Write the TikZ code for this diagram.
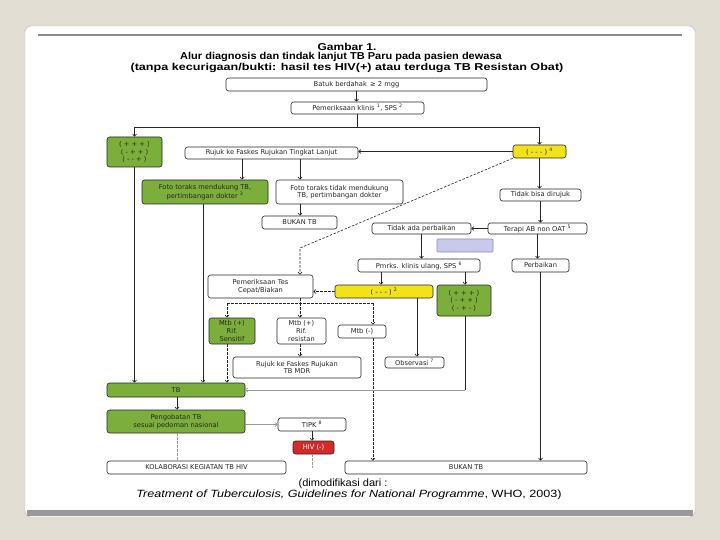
\documentclass[tikz,border=0pt]{standalone}
\usepackage{fontspec}
\usepackage{graphicx}
\setmainfont{DejaVu Sans}
\newfontfamily\titlefont{Liberation Sans}
\usetikzlibrary{arrows.meta,calc}
\definecolor{bg}{HTML}{E3DED3}
\definecolor{gr}{HTML}{7BAE3A}
\definecolor{yl}{HTML}{F2E21A}
\definecolor{rd}{HTML}{D42A2A}
\definecolor{lav}{HTML}{C9C9EC}
\newcommand\mybox[7]{\node[#6, minimum width={#4-#2}, minimum height={#5-#3}] (#1) at ({(#2+#4)/2},{(#3+#5)/2}) {#7};}
\begin{document}
\begin{tikzpicture}[x=1pt,y=-1pt,
 box/.style={draw=black!85, line width=0.6pt, rounded corners=2.5pt, fill=white, inner sep=0pt, align=center, text=black!85, font=\fontsize{6.7}{7.6}\selectfont},
 gbox/.style={box, fill=gr},
 ybox/.style={box, fill=yl},
 rbox/.style={box, fill=rd, text=white},
 arr/.style={-{Straight Barb[length=2.2pt,width=4pt]}},
 conn/.style={line width=0.6pt, draw=black!85},
 gconn/.style={line width=0.6pt, draw=black!40},
 dsh/.style={dash pattern=on 2.5pt off 1.5pt},
 ttl/.style={font=\titlefont\bfseries\fontsize{10}{11}\selectfont, inner sep=0pt},
 foot/.style={font=\titlefont\fontsize{10.5}{12}\selectfont, inner sep=0pt}]
\useasboundingbox (0,0) rectangle (720,540);
\fill[bg] (0,0) rectangle (720,540);
\filldraw[fill=white, draw=black!30, rounded corners=6pt] (25,26) rectangle (695,517);
\fill[black!40] (27,510) rectangle (693,516);
\draw[black!45, line width=1.2pt] (38,35) -- (682,35);

% titles
\node[ttl] (t1) at (347,46.5) {\scalebox{1.2}[1]{Gambar 1.}};
\node[ttl] (t2) at (341,57) {\scalebox{1.1}[1]{Alur diagnosis dan tindak lanjut TB Paru pada pasien dewasa}};
\node[ttl] (t3) at (347,67.5) {\scalebox{1.26}[1]{(tanpa kecurigaan/bukti: hasil tes HIV(+) atau terduga TB Resistan Obat)}};

% boxes
\mybox{b1}{226}{78}{487}{91}{box}{Batuk berdahak \,≥ 2 mgg}
\mybox{b2}{291}{102}{424}{114}{box}{Pemeriksaan klinis \textsuperscript{1}, SPS \textsuperscript{2}}
\mybox{g1}{107}{137}{162}{167}{gbox}{( + + + )\\( - + + )\\( - - + )}
\mybox{rujuk}{185}{147}{358}{159}{box}{Rujuk ke Faskes Rujukan Tingkat Lanjut}
\mybox{y1}{513}{145}{566}{158}{ybox}{( - - - ) \textsuperscript{4}}
\mybox{foto1}{142}{180}{268}{204}{gbox}{Foto toraks mendukung TB,\\pertimbangan dokter \textsuperscript{3}}
\mybox{foto2}{276}{180}{403}{204}{box}{Foto toraks tidak mendukung\\TB, pertimbangan dokter}
\mybox{bukan1}{262}{216}{337}{229}{box}{BUKAN TB}
\mybox{tbd}{500}{189}{581}{201}{box}{Tidak bisa dirujuk}
\mybox{terapi}{488}{223}{587}{234}{box}{Terapi AB non OAT \textsuperscript{5}}
\mybox{tap}{372}{223}{471}{234}{box}{Tidak ada perbaikan}
\mybox{lav}{437}{239}{493}{252}{box, fill=lav, draw=lav!70!black, rounded corners=1pt}{}
\mybox{pmrks}{358}{259}{480}{272}{box}{Pmrks. klinis ulang, SPS \textsuperscript{6}}
\mybox{perb}{512}{259}{569}{272}{box}{Perbaikan}
\mybox{y2}{335}{285}{433}{298}{ybox}{( - - - ) \textsuperscript{2}}
\mybox{g2}{437}{285}{491}{316}{gbox}{( + + + )\\( - + + )\\( - + - )}
\mybox{cepat}{208}{275}{313}{298}{box}{Pemeriksaan Tes\\Cepat/Biakan}
\mybox{sens}{209}{318}{255}{344}{gbox}{Mtb (+)\\Rif.\\Sensitif}
\mybox{res}{277}{318}{326}{344}{box}{Mtb (+)\\Rif.\\resistan}
\mybox{neg}{338}{325}{386}{338}{box}{Mtb (-)}
\mybox{mdr}{233}{357}{361}{378}{box}{Rujuk ke Faskes Rujukan\\TB MDR}
\mybox{obs}{385}{357}{444}{368}{box}{Observasi \textsuperscript{7}}
\mybox{tb}{107}{383}{245}{397}{gbox}{TB}
\mybox{peng}{107}{410}{245}{433}{gbox}{Pengobatan TB\\sesuai pedoman nasional}
\mybox{tipk}{278}{418}{346}{431}{box}{TIPK \textsuperscript{8}}
\mybox{hiv}{293}{441}{334}{454}{rbox}{HIV (-)}
\mybox{kolab}{107}{461}{286}{474}{box}{KOLABORASI KEGIATAN TB HIV}
\mybox{bukan2}{345}{461}{587}{474}{box}{BUKAN TB}

% connectors
\draw[conn,arr] (b1.south) -- (b1.south |- b2.north);
\coordinate (sp) at (357.5,127);
\draw[conn] (b2.south) -- (sp);
\draw[conn,arr] (sp) -| (g1.north);
\draw[conn,arr] (sp) -| (y1.north);
\draw[conn,arr] (y1.west) -- (rujuk.east |- y1.west);
\draw[conn,arr] (rujuk.south -| 242,0) -- (foto1.north -| 242,0);
\draw[conn,arr] (rujuk.south -| 300,0) -- (foto2.north -| 300,0);
\draw[conn,arr] (foto2.south -| 300,0) -- (bukan1.north -| 300,0);
\draw[conn,arr] (y1.south) -- (y1.south |- tbd.north);
\coordinate (dk) at (300,248);
\draw[conn,dsh,arr] (y1.south west) -- (dk) -- (cepat.north -| dk);
\draw[conn,arr] (tbd.south) -- (tbd.south |- terapi.north);
\draw[conn,arr] (terapi.west) -- (tap.east);
\draw[conn,arr] (tap.south) -- (tap.south |- pmrks.north);
\draw[conn,arr] (terapi.south) -- (terapi.south |- perb.north);
\draw[conn,arr] (pmrks.south -| 381,0) -- (y2.north -| 381,0);
\draw[conn,arr] (pmrks.south -| 465,0) -- (g2.north -| 465,0);
\draw[conn,dsh,arr] (y2.west) -- (cepat.east |- y2.west);
\coordinate (ds) at (300,303);
\coordinate (dl) at (227,303);
\coordinate (dr) at (373,303);
\draw[conn,dsh] (cepat.south -| ds) -- (ds);
\draw[conn,dsh] (dl) -- (dr);
\draw[conn,dsh,arr] (dl) -- (sens.north -| dl);
\draw[conn,dsh,arr] (ds) -- (res.north -| ds);
\draw[conn,dsh,arr] (dr) -- (neg.north -| dr);
\draw[conn,dsh,arr] (res.south -| ds) -- (mdr.north -| ds);
\draw[conn,dsh,arr] (sens.south -| dl) -- (tb.north -| dl);
\draw[conn,dsh,arr] (neg.south -| dr) -- (bukan2.north -| dr);
\draw[conn,arr] (y2.south -| 417,0) -- (obs.north -| 417,0);
\draw[conn] (g2.south -| 465,0) -- (465,390);
\draw[gconn,arr] (465,390) -- (tb.east);
\draw[conn,arr] (perb.south) -- (perb.south |- bukan2.north);
\draw[conn,arr] (g1.south) -- (g1.south |- tb.north);
\draw[conn,arr] (foto1.south -| 203,0) -- (tb.north -| 203,0);
\draw[conn,arr] (tb.south -| 177,0) -- (peng.north -| 177,0);
\draw[gconn,arr] (peng.east |- tipk.west) -- (tipk.west);
\draw[conn,arr] (tipk.south -| 312,0) -- (hiv.north -| 312,0);
\coordinate (hend) at (312,468);
\draw[gconn,dsh] (hiv.south -| hend) -- (hend);
\draw[gconn,dsh] (peng.south -| 177,0) -- (kolab.north -| 177,0);

% footer
\node[foot] (f1) at (343,484) {\scalebox{1.05}[1]{(dimodifikasi dari :}};
\node[foot] (f2) at (349,495) {\scalebox{1.2}[1]{\textit{Treatment of Tuberculosis, Guidelines for National Programme}, WHO, 2003)}};
\end{tikzpicture}
\end{document}
